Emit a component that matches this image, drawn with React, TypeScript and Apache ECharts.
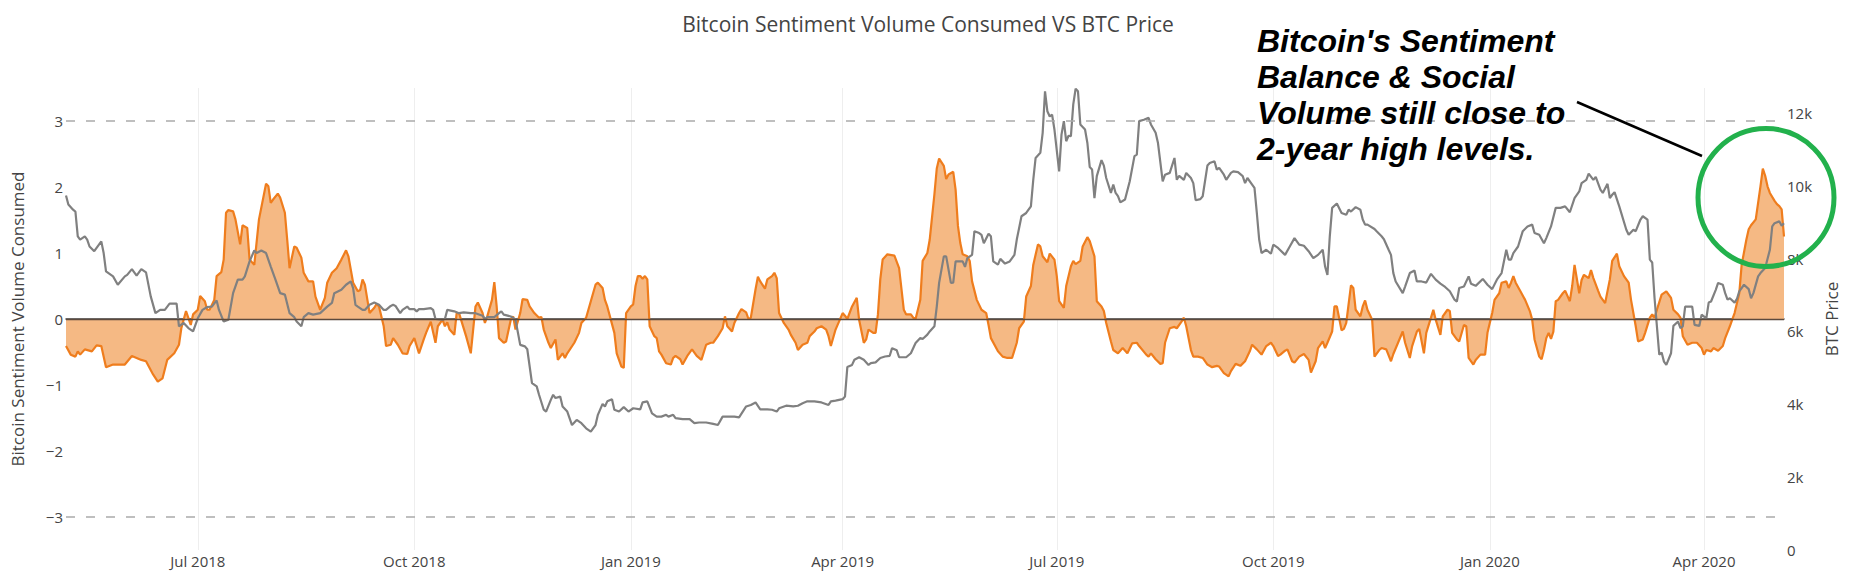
import React, { useEffect, useRef } from "react";
import * as echarts from "echarts";

// Dates are stored as day offsets counted from 1 July 2018.
const sentimentDay = [
  -56,-54,-52,-51,-50,-48,-45,-43,-41,-39,-36,-31,-28,-24,-22,-19,-17,-15,-13,-10,-8,-7,-5,-3,-2,0,1,3,4,5,7,8,10,11,12,13,15,16,18,19,21,22,24,26,29,30,31,32,34,35,37,38,39,41,42,44,45,47,49,50,52,54,55,57,59,61,63,64,
  66,68,69,70,71,73,75,76,77,79,80,82,83,85,87,89,90,92,94,96,97,99,101,102,104,105,106,107,109,110,111,114,116,118,119,121,122,123,125,126,127,128,130,131,133,134,135,137,138,140,141,143,145,146,147,149,150,152,153,155,156,157,160,162,163,165,167,169,170,172,173,174,177,178,180,181,182,184,185,186,187,
  188,189,190,191,192,194,195,196,197,199,201,202,203,205,206,208,210,212,214,216,218,219,221,223,224,225,227,228,230,231,233,234,235,237,238,239,241,242,244,245,246,247,249,251,252,254,255,257,259,260,262,263,265,267,268,269,271,274,275,276,278,280,281,283,284,285,287,288,289,290,291,293,296,298,300,301,303,304,305,307,308,310,311,
  313,314,315,317,318,319,321,322,323,324,325,327,328,329,331,333,335,336,337,340,342,344,346,348,349,351,352,354,355,357,358,359,361,362,364,365,366,368,369,371,372,373,375,376,378,379,381,382,384,385,386,388,389,391,393,395,397,399,400,403,404,405,407,409,410,411,413,415,416,418,419,420,422,423,425,427,429,431,433,434,
  436,438,439,441,443,445,447,448,450,452,454,456,457,459,460,462,463,465,466,468,470,472,473,475,476,478,479,480,482,483,484,486,487,488,490,491,492,494,495,496,497,499,500,502,503,505,507,508,510,512,513,515,516,518,519,521,522,524,525,526,528,529,531,532,533,535,536,538,539,540,542,543,545,547,548,550,551,553,554,556,557,558,
  559,560,562,564,566,567,568,570,571,572,573,574,575,576,577,578,580,581,583,584,585,587,588,589,591,592,593,595,596,598,600,601,603,604,606,608,609,611,612,614,615,617,618,619,620,622,624,626,627,629,630,631,633,635,637,639,640,641,643,644,646,648,649,651,652,653,655,656,658,659,660,662,663,664,665,666,667,668,670,671,672,673,674
];

const sentimentValue = [
  -0.41,-0.54,-0.57,-0.49,-0.54,-0.46,-0.49,-0.40,-0.41,-0.73,-0.69,-0.69,-0.56,-0.62,-0.64,-0.84,-0.95,-0.90,-0.62,-0.52,-0.39,-0.14,0.12,-0.09,0.07,0.14,0.35,0.27,0.14,0.14,0.29,0.65,0.71,0.90,1.61,1.65,1.63,1.51,1.13,1.42,1.38,0.90,0.82,1.51,2.05,2.01,1.76,1.81,1.90,1.84,1.61,1.20,0.77,1.10,1.08,0.93,0.70,0.57,0.57,0.34,0.14,0.32,0.55,0.70,0.77,0.90,1.04,0.95,
  0.55,0.42,0.44,0.60,0.52,0.09,0.17,0.23,0.19,-0.11,-0.41,-0.39,-0.29,-0.39,-0.52,-0.53,-0.41,-0.29,-0.52,-0.31,-0.21,-0.04,-0.36,-0.11,-0.01,-0.11,-0.05,-0.16,-0.24,0.09,0.09,-0.26,-0.52,0.19,0.25,0.09,-0.06,0.04,0.29,0.56,0.19,-0.29,-0.36,-0.34,-0.01,0.04,-0.16,0.09,0.30,0.29,0.19,0.09,0.02,0.03,-0.16,-0.36,-0.44,-0.31,-0.62,-0.52,-0.59,-0.52,-0.36,-0.21,-0.06,0.02,0.27,0.52,0.55,0.47,0.29,0.19,-0.21,-0.52,-0.72,-0.74,0.09,0.19,0.22,0.50,0.65,
  0.65,0.61,0.65,0.60,-0.11,-0.26,-0.29,-0.49,-0.54,-0.67,-0.69,-0.59,-0.56,-0.61,-0.69,-0.56,-0.46,-0.56,-0.62,-0.39,-0.36,-0.36,-0.26,-0.14,0.04,-0.11,-0.19,-0.06,0.09,0.15,0.10,0.00,0.02,0.45,0.64,0.57,0.46,0.60,0.65,0.70,0.62,0.09,-0.06,-0.16,-0.24,-0.36,-0.47,-0.39,-0.36,-0.26,-0.19,-0.14,-0.11,-0.16,-0.26,-0.41,-0.16,0.09,0.05,0.00,0.19,0.32,-0.01,-0.36,-0.31,-0.16,-0.21,-0.21,0.07,0.60,0.90,0.98,0.96,0.77,0.14,0.07,0.07,0.02,0.00,0.29,0.88,1.00,1.20,
  1.89,2.28,2.43,2.32,2.12,2.19,2.23,1.96,1.41,1.15,0.98,0.95,0.88,0.57,0.29,0.14,0.09,-0.09,-0.29,-0.49,-0.57,-0.59,-0.59,-0.36,-0.14,-0.04,0.34,0.50,0.82,1.13,1.10,0.95,0.86,0.99,0.90,0.65,0.27,0.17,0.50,0.80,0.88,0.83,0.88,1.10,1.24,1.18,0.95,0.27,0.19,0.12,-0.06,-0.34,-0.47,-0.52,-0.44,-0.52,-0.37,-0.36,-0.41,-0.54,-0.57,-0.52,-0.61,-0.68,-0.67,-0.36,-0.14,-0.12,-0.14,-0.04,0.02,-0.11,-0.47,-0.57,-0.57,-0.59,-0.69,-0.73,-0.71,-0.72,
  -0.82,-0.87,-0.79,-0.68,-0.71,-0.64,-0.49,-0.39,-0.46,-0.54,-0.41,-0.36,-0.41,-0.56,-0.54,-0.48,-0.46,-0.64,-0.66,-0.57,-0.53,-0.62,-0.81,-0.64,-0.44,-0.34,-0.44,-0.36,-0.19,0.19,0.19,-0.17,-0.15,-0.06,0.51,0.47,0.14,0.04,0.19,0.28,0.14,-0.01,-0.57,-0.47,-0.44,-0.46,-0.64,-0.53,-0.36,-0.19,-0.36,-0.59,-0.41,-0.19,-0.15,-0.52,-0.21,0.02,0.14,-0.01,-0.24,0.04,0.14,0.12,-0.21,-0.31,-0.34,-0.09,-0.11,-0.59,-0.69,-0.62,-0.54,-0.54,-0.21,0.09,0.29,0.39,0.55,0.57,0.47,0.55,
  0.65,0.55,0.42,0.29,0.12,-0.01,-0.31,-0.57,-0.61,-0.47,-0.29,-0.21,-0.30,-0.19,0.27,0.29,0.39,0.43,0.27,0.50,0.82,0.39,0.59,0.67,0.62,0.74,0.62,0.43,0.34,0.24,0.60,0.88,0.99,0.80,0.65,0.55,0.29,-0.11,-0.34,-0.31,-0.21,0.02,0.07,0.02,0.14,0.37,0.42,0.32,0.14,0.07,0.02,-0.26,-0.39,-0.36,-0.36,-0.44,-0.54,-0.47,-0.49,-0.44,-0.48,-0.41,-0.29,-0.11,-0.01,0.09,0.39,0.82,1.20,1.36,1.42,1.51,1.76,2.01,2.28,2.17,2.01,1.91,1.79,1.74,1.71,1.66,1.25
];

const priceDay = [
  -56,-55,-53,-52,-51,-50,-48,-47,-46,-44,-43,-41,-40,-39,-36,-34,-31,-30,-28,-26,-24,-22,-20,-18,-16,-14,-12,-9,-8,-6,-4,-2,0,2,4,6,8,9,11,13,15,17,19,20,22,24,25,27,29,31,33,35,37,39,41,42,44,45,47,49,52,55,57,58,61,63,65,
  66,67,68,70,71,73,75,77,79,80,82,83,84,86,87,89,90,92,93,94,96,99,100,101,104,105,106,109,111,113,116,118,121,122,123,126,128,129,130,133,134,135,137,139,140,142,144,145,147,148,150,151,152,154,155,157,159,161,163,165,167,169,170,172,173,174,176,177,179,181,183,185,188,
  189,191,193,195,197,199,200,202,203,206,209,211,213,216,219,221,223,225,228,230,233,235,237,239,242,244,246,247,250,253,255,257,259,262,265,268,269,271,274,275,276,278,279,281,283,285,286,288,290,292,294,295,297,298,301,303,305,307,308,310,311,
  313,314,315,317,318,320,321,322,323,325,326,327,329,330,332,333,334,336,337,338,340,341,343,345,347,348,350,352,354,355,356,358,359,360,361,362,363,364,366,367,368,369,370,371,372,373,374,375,377,378,379,380,381,382,384,385,386,388,389,390,391,392,394,396,398,399,400,402,404,405,407,408,410,411,413,415,416,417,419,420,422,423,424,426,427,429,430,432,433,434,
  436,437,439,440,442,444,445,446,448,449,450,451,452,454,456,457,459,462,464,466,468,470,472,474,476,478,479,480,481,482,484,486,488,489,490,492,494,495,496,497,500,501,503,504,506,507,508,509,512,513,515,517,518,520,522,524,526,528,530,532,534,535,536,538,540,541,543,546,548,550,552,554,556,557,558,
  559,561,563,565,567,568,570,572,573,575,577,579,581,583,585,587,588,590,591,593,594,596,597,599,600,601,602,604,607,608,610,611,613,614,616,617,618,619,621,622,623,624,626,627,629,630,631,632,634,635,636,638,639,641,642,643,645,646,648,649,650,651,653,654,655,657,659,660,661,663,664,666,668,669,670,672,673,674
];

// BTC price, thousands of USD
const priceValue = [
  9.73,9.48,9.34,9.29,8.61,8.52,8.61,8.52,8.33,8.20,8.29,8.47,8.15,7.65,7.51,7.28,7.51,7.55,7.71,7.53,7.71,7.62,6.96,6.50,6.59,6.59,6.76,6.76,6.14,6.23,6.09,6.00,6.36,6.59,6.67,6.68,6.85,6.59,6.27,6.32,7.05,7.42,7.42,7.51,7.92,8.22,8.15,8.22,8.15,7.78,7.42,7.05,7.01,6.50,6.39,6.27,6.14,6.39,6.50,6.46,6.50,6.68,6.78,7.05,7.14,7.28,7.37,
  7.19,6.73,6.68,6.59,6.59,6.73,6.79,6.73,6.59,6.59,6.70,6.73,6.70,6.50,6.59,6.68,6.61,6.61,6.55,6.61,6.61,6.64,6.59,6.34,6.32,6.34,6.59,6.55,6.50,6.52,6.50,6.50,6.43,6.34,6.39,6.39,6.50,6.55,6.46,6.41,6.37,6.32,5.63,5.59,5.51,4.58,4.49,4.26,3.85,3.80,4.12,4.26,4.17,4.21,3.94,3.80,3.43,3.57,3.48,3.34,3.25,3.43,3.71,4.01,3.94,4.08,4.14,3.85,3.80,3.92,3.80,3.89,3.86,
  4.05,4.08,3.75,3.66,3.66,3.71,3.66,3.71,3.62,3.59,3.59,3.48,3.50,3.50,3.46,3.43,3.66,3.66,3.66,3.64,3.94,3.98,4.05,3.86,3.86,3.85,3.80,3.89,3.96,3.94,3.96,4.03,4.08,4.08,4.05,3.98,4.08,4.10,4.14,4.21,5.02,5.08,5.22,5.29,5.22,5.08,5.13,5.15,5.27,5.31,5.33,5.54,5.48,5.29,5.29,5.40,5.68,5.82,5.79,5.91,6.00,
  6.14,6.68,7.33,8.06,8.06,7.33,7.34,7.92,7.92,7.92,7.77,8.01,8.10,8.75,8.70,8.65,8.42,8.68,8.61,7.92,7.83,7.99,7.86,7.92,8.10,8.52,9.16,9.25,9.43,10.16,10.76,10.90,11.45,12.59,12.04,11.90,11.95,11.54,10.39,11.40,11.77,11.22,11.37,11.36,12.23,12.66,12.59,11.68,11.54,11.17,10.51,10.44,9.66,10.26,10.70,10.55,10.21,9.80,10.03,9.80,9.71,9.54,9.62,10.12,10.81,10.85,11.77,11.81,11.86,11.68,11.45,11.17,10.12,10.30,10.35,10.76,10.16,10.27,10.16,10.35,10.21,10.07,9.60,9.63,9.71,10.55,10.62,10.67,10.44,10.49,
  10.30,10.16,10.35,10.39,10.37,10.26,10.07,10.21,10.03,9.94,9.25,8.52,8.15,8.24,8.13,8.38,8.29,8.10,8.33,8.56,8.38,8.35,8.20,8.01,8.10,8.24,7.78,7.55,8.61,9.39,9.51,9.25,9.20,9.34,9.29,9.41,9.34,9.07,8.93,8.93,8.81,8.74,8.61,8.53,8.24,8.10,7.60,7.37,7.05,7.23,7.60,7.67,7.37,7.37,7.34,7.58,7.42,7.31,7.22,7.10,6.87,6.82,7.19,7.23,7.51,7.31,7.25,7.44,7.28,7.16,7.42,7.60,8.24,7.97,7.97,
  8.15,8.33,8.75,8.88,8.93,8.70,8.65,8.42,8.56,8.88,9.39,9.39,9.43,9.27,9.66,9.84,10.07,10.16,10.33,10.16,10.24,9.89,9.80,10.05,9.66,9.75,9.82,9.43,8.79,8.65,8.79,8.75,9.07,9.16,9.07,7.97,7.89,6.91,5.36,5.42,5.17,5.08,5.40,6.15,6.27,6.09,6.14,6.68,6.68,6.68,6.18,6.15,6.46,6.36,6.79,6.82,7.14,7.33,7.28,7.05,6.87,6.91,6.79,6.89,7.10,7.28,7.16,6.91,7.05,7.51,7.60,7.74,8.24,8.88,8.97,9.02,8.90,8.97
];

const monthNames = ["Jan", "Feb", "Mar", "Apr", "May", "Jun", "Jul", "Aug", "Sep", "Oct", "Nov", "Dec"];
const chartTitle = "Bitcoin Sentiment Volume Consumed VS BTC Price";
const leftAxisTitle = "Bitcoin Sentiment Volume Consumed";
const rightAxisTitle = "BTC Price";
const annotationLines = ["Bitcoin's Sentiment", "Balance & Social", "Volume still close to", "2-year high levels."];
const guideLevels = [3, -3];

const toTime = (d: number) => new Date(2018, 6, 1 + d).getTime();

export default function App() {
  const ref = useRef<HTMLDivElement>(null);

  useEffect(() => {
    document.body.style.margin = "0";
    if (!ref.current) return;
    const chart = echarts.init(ref.current, undefined, { renderer: "svg" });

    const n1 = Math.min(sentimentDay.length, sentimentValue.length);
    const n2 = Math.min(priceDay.length, priceValue.length);
    const sentimentData = sentimentDay.slice(0, n1).map((d, i) => [toTime(d), sentimentValue[i]]);
    const priceData = priceDay.slice(0, n2).map((d, i) => [toTime(d), priceValue[i]]);

    const font = "Open Sans";
    const isInt = (v: number) => Math.abs(v - Math.round(v)) < 1e-6;

    chart.setOption({
      animation: false,
      textStyle: { fontFamily: font },
      title: {
        text: chartTitle,
        left: "center",
        top: 8,
        textStyle: { fontFamily: font, fontSize: 21, fontWeight: "normal", color: "#444" },
      },
      grid: { left: 66, right: 72, top: 88, bottom: 28, containLabel: false, outerBoundsMode: "none" },
      xAxis: {
        type: "time",
        min: toTime(sentimentDay[0]),
        max: toTime(sentimentDay[n1 - 1]),
        splitNumber: 7,
        axisLine: { show: true, lineStyle: { color: "#444", width: 1.5 } },
        axisTick: { show: false },
        splitLine: { show: true, showMinLine: false, showMaxLine: false, lineStyle: { color: "#eeeeee", width: 1 } },
        axisLabel: {
          color: "#444",
          fontSize: 15,
          fontFamily: font,
          margin: 3,
          showMinLabel: false,
          showMaxLabel: false,
          formatter: (v: number) => {
            const dt = new Date(v);
            if (dt.getDate() !== 1 || dt.getMonth() % 3 !== 0) return "";
            return monthNames[dt.getMonth()] + " " + dt.getFullYear();
          },
        },
      },
      yAxis: [
        {
          type: "value",
          position: "left",
          min: -3.5,
          max: 3.5,
          splitNumber: 7,
          name: leftAxisTitle,
          nameLocation: "middle",
          nameRotate: 90,
          nameGap: 40,
          nameTextStyle: { color: "#444", fontSize: 17, fontFamily: font },
          axisLine: { show: false },
          axisTick: { show: false },
          splitLine: { show: false },
          axisLabel: {
            color: "#444",
            fontSize: 15,
            fontFamily: font,
            margin: 3,
            formatter: (v: number) => (isInt(v) ? (v < 0 ? "\u2212" + Math.abs(Math.round(v)) : String(Math.round(v))) : ""),
          },
        },
        {
          type: "value",
          position: "right",
          min: 0,
          max: 12.68,
          interval: 2,
          name: rightAxisTitle,
          nameLocation: "middle",
          nameRotate: 90,
          nameGap: 35,
          nameTextStyle: { color: "#444", fontSize: 17, fontFamily: font },
          axisLine: { show: false },
          axisTick: { show: false },
          splitLine: { show: false },
          axisLabel: {
            color: "#444",
            fontSize: 15,
            fontFamily: font,
            margin: 3,
            formatter: (v: number) => (isInt(v) && Math.round(v) % 2 === 0 ? (v === 0 ? "0" : Math.round(v) + "k") : ""),
          },
        },
      ],
      series: [
        {
          name: "Sentiment",
          type: "line",
          yAxisIndex: 0,
          data: sentimentData,
          symbol: "none",
          showSymbol: false,
          lineStyle: { color: "#ef7d1d", width: 2.2 },
          itemStyle: { color: "#ef7d1d" },
          areaStyle: { color: "#f5b984", opacity: 1, origin: "auto" },
          z: 2,
          markLine: {
            silent: true,
            symbol: ["none", "none"],
            label: { show: false },
            data: [
              ...guideLevels.map((y) => ({ yAxis: y, lineStyle: { color: "#aaaaaa", width: 1.5, type: [9, 11] } })),
              { yAxis: 0, lineStyle: { color: "#5c4a3d", width: 1.3, type: "solid" } },
            ],
          },
        },
        {
          name: "BTC Price",
          type: "line",
          yAxisIndex: 1,
          data: priceData,
          symbol: "none",
          showSymbol: false,
          lineStyle: { color: "#808080", width: 2.2 },
          itemStyle: { color: "#808080" },
          z: 3,
        },
      ],
      graphic: [
        {
          type: "text",
          x: 1257,
          y: 23,
          z: 100,
          style: {
            text: annotationLines.join("\n"),
            fontFamily: '"Liberation Sans", Arial, sans-serif',
            fontSize: 32,
            fontWeight: "bold",
            fontStyle: "italic",
            lineHeight: 36,
            fill: "#000",
            verticalAlign: "top",
            align: "left",
          },
        },
        {
          type: "line",
          z: 100,
          shape: { x1: 1577, y1: 102, x2: 1702, y2: 156 },
          style: { stroke: "#000", lineWidth: 2.5 },
        },
        {
          type: "ellipse",
          z: 100,
          shape: { cx: 1766, cy: 197.5, rx: 68, ry: 69 },
          style: { fill: "none", stroke: "#22b14c", lineWidth: 5 },
        },
      ],
    });

    return () => chart.dispose();
  }, []);

  return <div ref={ref} style={{ width: 1856, height: 578 }} />;
}
